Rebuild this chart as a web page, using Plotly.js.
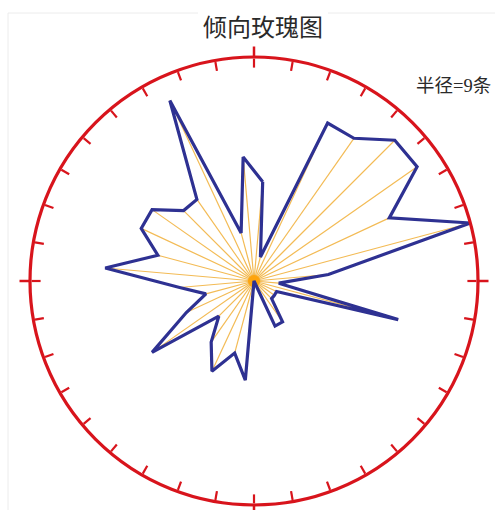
<!DOCTYPE html>
<html><head><meta charset="utf-8">
<script src="https://cdn.plot.ly/plotly-3.0.1.min.js"></script>
<style>html,body{margin:0;padding:0;background:#fff}</style>
</head><body><div id="chart" style="width:495px;height:510px"></div>
<script>
// Dip-direction bins (degrees, centre of each 10° bin)
const binCenters = [5,15,25,35,45,55,65,75,85,95,105,115,125,135,145,155,165,175,
                    185,195,205,215,225,235,245,255,265,275,285,295,305,315,325,335,345,355];
// Number of measurements in each bin
const counts = [4,1,7,7,8,8,6,9,3,1,6,1,1,1,2,2,0,0,
                4,3,4,3,2,5,3,2,3,6,4,5,5,4,4,8,2,5];
const radiusMax = 9;
const titleText = '倾向玫瑰图';
const radiusLabel = '半径=' + radiusMax + '条';

// spokes from centre to each vertex
const spokeR = [], spokeT = [];
binCenters.forEach((t, i) => { spokeR.push(0, counts[i], null); spokeT.push(t, t, null); });

const traces = [
  {type:'scatterpolar', subplot:'polar', r:spokeR, theta:spokeT, mode:'lines',
   line:{color:'#f3bb55', width:1.2}, hoverinfo:'skip', cliponaxis:false, showlegend:false},
  {type:'scatterpolar', subplot:'polar', r:[0], theta:[0], mode:'markers',
   marker:{color:'rgba(255,160,0,0.85)', size:12}, hoverinfo:'skip', showlegend:false},
  {type:'scatterpolar', subplot:'polar', r:counts.concat([counts[0]]), theta:binCenters.concat([binCenters[0]]),
   mode:'lines', line:{color:'#2e3192', width:3.2}, hoverinfo:'skip', cliponaxis:false, showlegend:false},
  {type:'scatterpolar', subplot:'polar2', r:[0], theta:[0], mode:'markers',
   marker:{opacity:0}, hoverinfo:'skip', showlegend:false}
];

const R = 224, cx = 254, cy = 281, W = 495, H = 510;
const dom = {x:[(cx-R)/W, (cx+R)/W], y:[(H-cy-R)/H, (H-cy+R)/H]};
const red = '#d8141c';

const layout = {
  width:W, height:H, margin:{l:0,r:0,t:0,b:0},
  paper_bgcolor:'#fff', showlegend:false,
  title:{text:titleText, x:263/W, xanchor:'center', y:1-28/H, yanchor:'middle', yref:'container',
         font:{family:'"Noto Sans CJK SC", sans-serif', size:24, color:'#2a2a2a'}},
  polar:{
    domain:dom, bgcolor:'rgba(0,0,0,0)', hole:0,
    radialaxis:{range:[0,radiusMax], visible:false, showgrid:false},
    angularaxis:{rotation:90, direction:'clockwise', dtick:10, ticks:'inside', ticklen:9,
                 tickwidth:2.2, tickcolor:red, showline:true, linecolor:red, linewidth:3.2,
                 showgrid:false, showticklabels:false}
  },
  polar2:{
    domain:dom, bgcolor:'rgba(0,0,0,0)',
    radialaxis:{range:[0,radiusMax], visible:false, showgrid:false},
    angularaxis:{rotation:90, direction:'clockwise', dtick:90, ticks:'outside', ticklen:10,
                 tickwidth:2.5, tickcolor:red, showline:false, showgrid:false, showticklabels:false}
  },
  annotations:[{text:radiusLabel, xref:'paper', yref:'paper', x:493/W, xanchor:'right',
                y:1-86/H, yanchor:'middle', showarrow:false,
                font:{family:'"Liberation Serif", "Noto Sans CJK SC", serif', size:18.5, color:'#2a2a2a'}}],
  shapes:[
    {type:'line', xref:'paper', yref:'paper', x0:8/W, x1:198/W, y0:1-13/H, y1:1-13/H, line:{color:'#ececec', width:1}},
    {type:'line', xref:'paper', yref:'paper', x0:328/W, x1:1, y0:1-13/H, y1:1-13/H, line:{color:'#ececec', width:1}},
    {type:'line', xref:'paper', yref:'paper', x0:8/W, x1:8/W, y0:0, y1:1-13/H, line:{color:'#ececec', width:1}}
  ]
};

Plotly.newPlot('chart', traces, layout, {staticPlot:true, displayModeBar:false});
</script></body></html>
